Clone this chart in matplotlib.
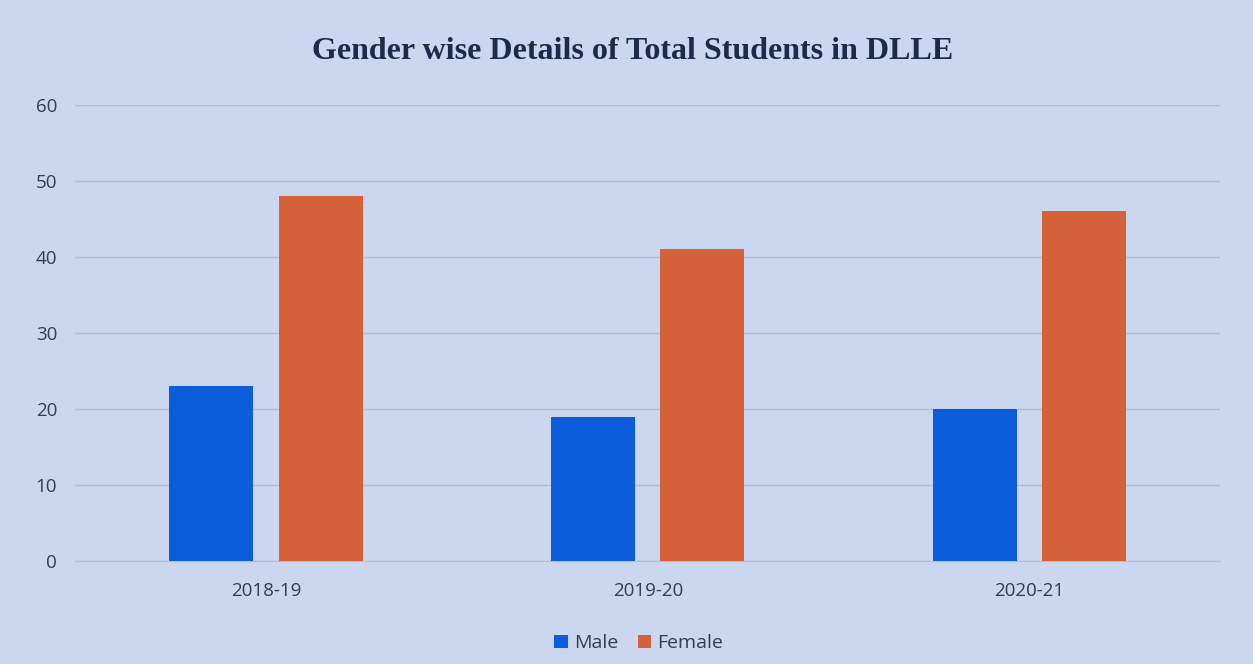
import matplotlib
matplotlib.use("Agg")
import matplotlib.pyplot as plt
import numpy as np

# chart data
years = ["2018-19", "2019-20", "2020-21"]
male = [23, 19, 20]
female = [48, 41, 46]

BG = "#cbd6ef"
BLUE = "#0b5ddc"
ORANGE = "#d5613a"
TEXT = "#333d52"


def main():
    fig = plt.figure(figsize=(12.53, 6.64), dpi=100, facecolor=BG)
    ax = fig.add_axes([0.06, 0.155, 0.914, 0.687], facecolor=BG)

    x = np.arange(len(years))
    width = 0.22
    offset = 0.143
    ax.bar(x - offset, male, width, color=BLUE, label="Male", zorder=3)
    ax.bar(x + offset, female, width, color=ORANGE, label="Female", zorder=3)

    ax.set_xlim(-0.5, len(years) - 0.5)
    ax.set_ylim(0, 60)
    ax.set_yticks(range(0, 61, 10))
    ax.set_xticks(x)
    ax.set_xticklabels(years)
    ax.tick_params(axis="both", length=0, labelsize=13.5, colors=TEXT,
                   labelfontfamily="Open Sans")
    ax.tick_params(axis="y", pad=13)
    ax.tick_params(axis="x", pad=15)

    ax.grid(axis="y", color="#b3bed3", linewidth=1.0, zorder=0)
    for side in ["top", "right", "left"]:
        ax.spines[side].set_visible(False)
    ax.spines["bottom"].set_color("#b3bed3")

    fig.suptitle("Gender wise Details of Total Students in DLLE",
                 x=0.505, y=0.945, fontsize=23, fontweight="bold",
                 family="Liberation Serif", color="#1e2a4a")

    ax.legend(loc="upper center", bbox_to_anchor=(0.492, -0.122), ncol=2,
              frameon=False, handlelength=0.7, handleheight=0.7,
              handletextpad=0.3, columnspacing=1.0,
              prop={"family": "Open Sans", "size": 14},
              labelcolor=TEXT)

    fig.savefig("out.png", dpi=100, facecolor=BG)
    plt.close(fig)


if __name__ == "__main__":
    main()
